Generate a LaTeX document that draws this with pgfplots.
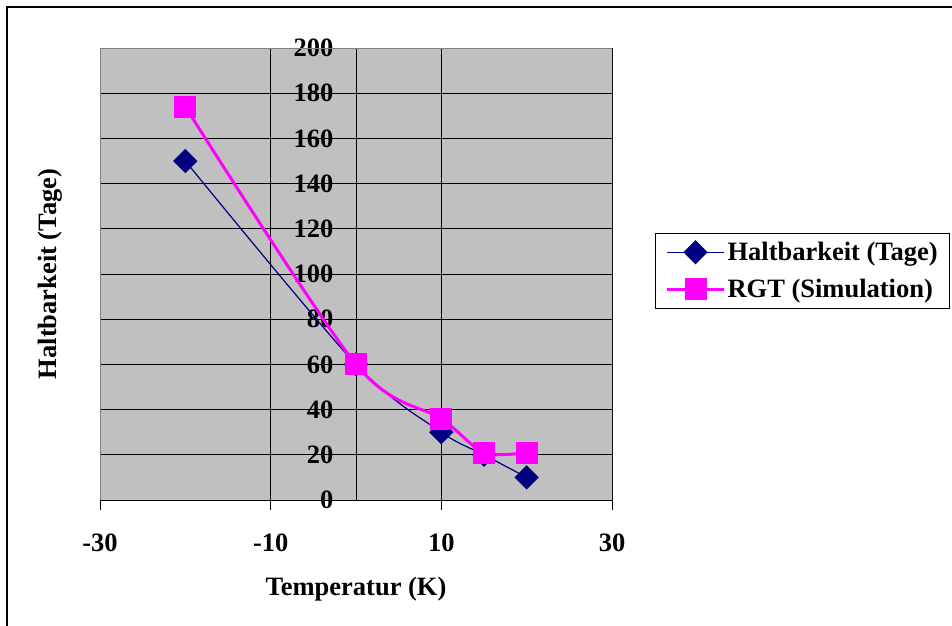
\documentclass[border=0pt]{standalone}
\usepackage{pgfplots}
\pgfplotsset{compat=1.18}
\usepackage{fontspec}
\setmainfont{Liberation Serif}
\definecolor{plotgray}{RGB}{192,192,192}
\definecolor{bordergray}{RGB}{128,128,128}
\definecolor{navy}{RGB}{0,0,128}
\definecolor{mag}{RGB}{255,0,255}
\newcommand\cf{\fontsize{26.5}{32}\selectfont\bfseries}
\begin{document}
\begin{tikzpicture}[x=1pt,y=1pt]
\useasboundingbox (0,0) rectangle (952,625);
\draw[line width=1.5pt] (7,-10) rectangle (970,618);
\begin{axis}[
  at={(100pt,125pt)}, anchor=south west,
  scale only axis, width=512pt, height=452pt,
  xmin=-30, xmax=30, ymin=0, ymax=200,
  xtick={-30,-10,10,30}, ytick={0,20,...,200},
  axis lines=middle, axis line style={-, black, line width=1pt},
  hide obscured x ticks=false, hide obscured y ticks=false,
  tick align=outside, major tick length=10pt,
  tick style={black, line width=0.8pt},
  grid=major, grid style={black, line width=0.8pt},
  axis background/.style={fill=plotgray},
  /pgf/number format/assume math mode=true,
  ticklabel style={font=\cf},
  xticklabel style={yshift=-20pt},
  yticklabel style={xshift=-9pt},
  xlabel={Temperatur (K)}, ylabel={Haltbarkeit (Tage)},
  label style={font=\cf},
  xlabel style={at={(axis description cs:0.5,-0.197)}, anchor=center},
  ylabel style={at={(axis description cs:-0.098,0.5)}, anchor=center, rotate=90},
  legend style={at={(1.084,0.591)}, anchor=north west, draw=black, line width=1pt,
    font=\cf, inner xsep=10pt, inner ysep=7pt, row sep=13pt},
  legend cell align=left,
  legend image code/.code={\draw[#1, mark repeat=2, mark phase=2] plot coordinates {(0pt,0pt)(28.5pt,0pt)(57pt,0pt)};},
]
\draw[bordergray, line width=1pt] (rel axis cs:0,0)--(rel axis cs:0,1)--(rel axis cs:1,1)--(rel axis cs:1,0);
\addplot[navy, line width=1.2pt, smooth, mark=square*, mark size=8pt, mark options={rotate=45, solid, fill=navy}]
  coordinates {(-20,150)(0,60)(10,30)(15,20)(20,10)};
\addlegendentry{Haltbarkeit (Tage)}
\addplot[mag, line width=3pt, smooth, mark=square*, mark size=9.5pt, mark options={solid, fill=mag}]
  coordinates {(-20,174)(0,60)(10,36)(15,21)(20,21)};
\addlegendentry{RGT (Simulation)}
\end{axis}
\end{tikzpicture}
\end{document}
